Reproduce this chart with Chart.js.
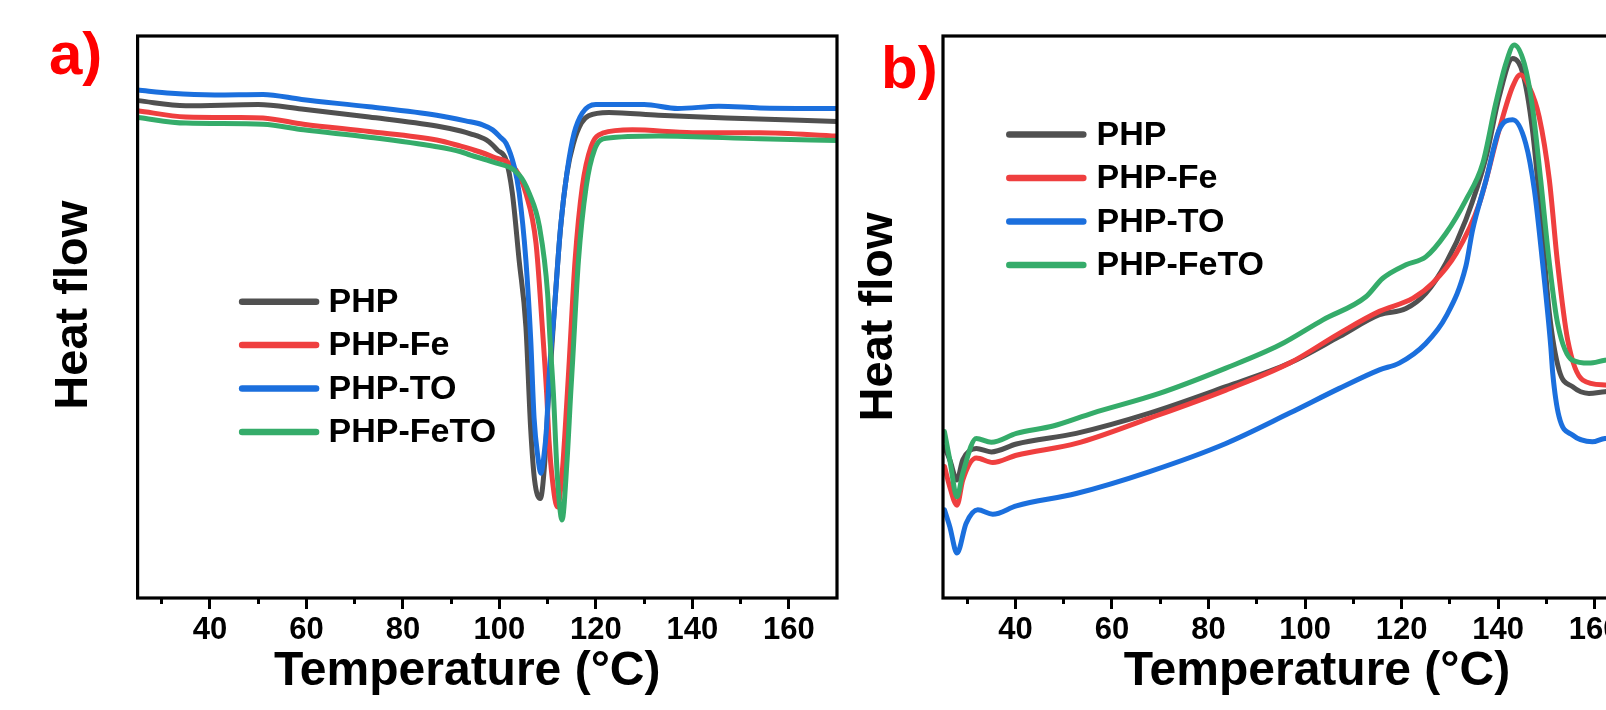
<!DOCTYPE html>
<html>
<head>
<meta charset="utf-8">
<script src="https://cdn.jsdelivr.net/npm/chart.js@4.4.0/dist/chart.umd.min.js"></script>
<style>
  html, body { margin: 0; padding: 0; background: #fff; overflow: hidden; }
  #wrap { position: relative; width: 1606px; height: 710px; overflow: hidden; }
  canvas { position: absolute; top: 0; }
  #panelA { left: 0; }
  #panelB { left: 840px; }
</style>
</head>
<body>
<div id="wrap">
  <canvas id="panelA" width="840" height="710"></canvas>
  <canvas id="panelB" width="811" height="710"></canvas>
</div>
<script>
// DSC curves (heat flow in arbitrary units, 0 = bottom of frame, 100 = top)
const seriesNames = ["PHP", "PHP-Fe", "PHP-TO", "PHP-FeTO"];
const seriesColors = ["#505050", "#ef3f3f", "#1b6fdd", "#35ac6a"];
const majorTicks = [40, 60, 80, 100, 120, 140, 160];
const minorTicks = [30, 50, 70, 90, 110, 130, 150];

// panel a)
const a_PHP_T = [25, 35, 50, 59, 73, 87, 92, 94, 97.3, 98.6, 99.6, 101.4, 102.7, 104.1, 105.5, 106.5, 107.3, 108.5, 109.4, 110.2, 111.3, 112.6, 114, 115.4, 117, 118.5, 122.7, 133, 147, 170];
const a_PHP_HF = [88.5, 87.6, 87.8, 87.0, 85.6, 84.0, 83.1, 82.6, 81.5, 80.6, 79.7, 77.9, 72.0, 60.1, 48.3, 30, 21, 17.7, 24, 36, 50, 65, 75.5, 81, 84.5, 85.8, 86.4, 85.9, 85.4, 84.8];

const a_Fe_T = [25, 35, 45.6, 51, 59.4, 73, 87, 92, 94, 98.6, 103.4, 105.5, 107.6, 108.9, 109.8, 110.3, 111, 112, 113, 114.1, 114.5, 115.7, 117.2, 119, 121.4, 127.6, 140, 154, 170];
const a_Fe_HF = [86.7, 85.6, 85.5, 85.4, 84.3, 83.0, 81.5, 80.4, 79.9, 78.5, 76.2, 72.0, 63.1, 48.3, 36.5, 28, 21, 16.2, 22, 36.5, 42.3, 60.1, 73.2, 80.3, 82.7, 83.3, 82.8, 82.8, 82.2];

const a_TO_T = [25, 32, 41, 51, 59, 73, 87, 93, 96.5, 98.6, 100.2, 101.4, 103.1, 104.1, 105.5, 106.5, 107.2, 108, 108.6, 109.2, 109.8, 110.3, 111.4, 112.7, 114.1, 115.5, 117.2, 120, 130, 137, 145.5, 154, 170];
const a_TO_HF = [90.4, 89.8, 89.5, 89.6, 88.7, 87.4, 85.9, 84.9, 84.2, 83.3, 82.0, 80.9, 76.7, 72.1, 60.1, 46, 32, 25, 22.2, 25, 30.5, 39.4, 51.2, 66.1, 76.2, 82.7, 86.3, 87.8, 87.8, 87.1, 87.5, 87.2, 87.1];

const a_FeTO_T = [25, 35, 51, 59.4, 73, 87, 92, 94, 98.6, 104.1, 106.2, 108.3, 110, 110.5, 111.2, 112, 113, 114, 114.8, 115.2, 116.4, 118, 119.7, 122.1, 133, 154, 170];
const a_FeTO_HF = [85.5, 84.5, 84.3, 83.3, 82.0, 80.3, 79.4, 78.8, 77.6, 75.3, 72.0, 66.1, 54.2, 46, 36.5, 22, 13.9, 24, 36.5, 42.3, 60.1, 73.2, 79.7, 81.8, 82.2, 81.7, 81.4];

// panel b)
const b_PHP_T = [25.3, 26.4, 27.9, 29.1, 31.9, 35, 40.2, 52.6, 67.8, 83.6, 96.8, 107.1, 115.4, 120.9, 125, 129.2, 133.3, 137.5, 140.2, 143, 145.1, 147.1, 148.8, 150.6, 152.6, 155.4, 158.8, 162.1, 166, 170];
const b_PHP_HF = [26.9, 24.6, 21.0, 24.6, 26.6, 26.0, 27.4, 29.3, 32.9, 37.6, 41.8, 46.5, 50.4, 51.5, 54.2, 59.6, 67.3, 78.5, 89.2, 96.0, 93.4, 83.3, 68.5, 50.7, 40.6, 37.6, 36.4, 36.7, 36.9, 37.0];

const b_Fe_T = [25.3, 26.4, 27.9, 29.1, 31.9, 35.3, 40.2, 52.6, 67.8, 83.6, 96.8, 107.1, 115.4, 122.3, 126.4, 131.3, 136.1, 140.2, 143, 144.6, 146.4, 148.5, 150.6, 152.3, 154.4, 157.5, 162.1, 166, 170];
const b_Fe_HF = [23.4, 19.8, 16.5, 21, 24.9, 24.1, 25.4, 27.5, 32.0, 37.0, 41.8, 47.1, 51.0, 53.3, 56.0, 61.3, 70.2, 83.3, 91.0, 93.1, 91.0, 85.6, 74.4, 59.6, 45.9, 38.8, 37.9, 37.8, 37.8];

const b_TO_T = [25.3, 26.4, 27.9, 29.8, 32.2, 35.3, 40.2, 52.6, 67.8, 83.6, 96.8, 107.1, 115.4, 119.5, 125, 129.2, 133.3, 134.7, 137.5, 140.2, 143, 145.7, 147.5, 149.2, 150.9, 151.3, 152.6, 155.4, 159.5, 162.1, 166, 170];
const b_TO_HF = [15.7, 12.7, 8.0, 13.3, 15.7, 14.9, 16.4, 18.6, 22.5, 27.5, 32.9, 37.3, 40.6, 41.8, 45.3, 50.1, 59.0, 65.5, 74.4, 83.3, 85.1, 80.9, 72.6, 59.6, 44.7, 40.0, 32.3, 29.0, 27.8, 28.4, 28.5, 28.6];

const b_FeTO_T = [25.3, 26.4, 27.9, 29.1, 31.9, 35, 40.2, 47.8, 56, 69.8, 83.6, 94.7, 103.7, 112.6, 116.1, 120.9, 125, 129.2, 133.3, 136.8, 139.5, 141.6, 143.3, 145.4, 147.1, 148.8, 150.6, 152.3, 155.4, 158.8, 162.1, 166, 170];
const b_FeTO_HF = [29.6, 24.6, 18.0, 22.2, 28.4, 27.7, 29.3, 30.6, 32.9, 36.4, 40.9, 45.0, 49.5, 53.6, 56.9, 59.3, 60.7, 64.9, 70.8, 77.3, 88.0, 95.1, 98.4, 95.1, 87.4, 74.4, 59.6, 48.9, 42.3, 41.8, 42.3, 42.6, 42.8];

Chart.defaults.font.family = '"Liberation Sans", Arial, sans-serif';
Chart.defaults.color = "#000";

const toPoints = (xs, ys) => xs.map((x, i) => ({ x: x, y: ys[i] }));

// black box around the plot area
const framePlugin = {
    id: "frame",
    afterDatasetsDraw(chart) {
        const { ctx, chartArea: a } = chart;
        ctx.save();
        ctx.lineWidth = 3.2;
        ctx.strokeStyle = "#000";
        ctx.strokeRect(a.left, a.top, a.right - a.left, a.bottom - a.top);
        ctx.restore();
    }
};

// legend drawn inside the plot, built from the datasets
const insetLegend = {
    id: "insetLegend",
    afterDraw(chart, args, opts) {
        const { ctx, chartArea: a } = chart;
        ctx.save();
        chart.data.datasets.forEach((ds, i) => {
            const y = a.top + opts.top + i * opts.gap;
            const x0 = a.left + opts.x;
            ctx.strokeStyle = ds.borderColor;
            ctx.lineWidth = 6.5;
            ctx.lineCap = "round";
            ctx.beginPath();
            ctx.moveTo(x0, y);
            ctx.lineTo(x0 + opts.len, y);
            ctx.stroke();
            ctx.fillStyle = "#000";
            ctx.font = 'bold 34px "Liberation Sans", Arial, sans-serif';
            ctx.textBaseline = "middle";
            ctx.fillText(ds.label, a.left + opts.textX, y + 1);
        });
        ctx.restore();
    }
};

// red panel tag, a) / b)
const panelTag = {
    id: "panelTag",
    afterDraw(chart, args, opts) {
        const ctx = chart.ctx;
        ctx.save();
        ctx.fillStyle = "#ff0000";
        ctx.font = 'bold 60px "Liberation Sans", Arial, sans-serif';
        ctx.textBaseline = "alphabetic";
        ctx.fillText(opts.text, opts.x, opts.y);
        ctx.restore();
    }
};

function makeChart(canvasId, sets, cfg) {
    const ctx = document.getElementById(canvasId).getContext("2d");
    new Chart(ctx, {
        type: "line",
        data: {
            datasets: sets.map((s, i) => ({
                label: seriesNames[i],
                data: toPoints(s[0], s[1]),
                borderColor: seriesColors[i],
                backgroundColor: "transparent",
                borderWidth: 5,
                pointRadius: 0,
                cubicInterpolationMode: "monotone",
                borderCapStyle: "round",
                borderJoinStyle: "round",
                order: 4 - i
            }))
        },
        options: {
            responsive: false,
            devicePixelRatio: 1,
            animation: false,
            events: [],
            layout: { padding: { top: 36, right: cfg.rightPad, left: 0, bottom: 0 } },
            plugins: {
                legend: { display: false },
                tooltip: { enabled: false },
                insetLegend: cfg.legend,
                panelTag: cfg.tag
            },
            scales: {
                x: {
                    type: "linear",
                    position: "bottom",
                    min: 25,
                    max: 170,
                    afterBuildTicks: s => { s.ticks = majorTicks.map(v => ({ value: v })); },
                    afterFit: s => { s.height = 112; },
                    grid: { drawOnChartArea: false, drawTicks: true, tickLength: 11, tickWidth: 3, tickColor: "#000" },
                    border: { display: false },
                    ticks: { color: "#000", font: { size: 31, weight: "bold" }, padding: 3, maxRotation: 0, autoSkip: false },
                    title: {
                        display: true,
                        text: cfg.xTitle,
                        color: "#000",
                        font: { size: 48, weight: "bold" },
                        padding: { top: 0, bottom: 9 }
                    }
                },
                xMinor: {
                    type: "linear",
                    axis: "x",
                    position: { y: 0 },
                    min: 25,
                    max: 170,
                    afterBuildTicks: s => { s.ticks = minorTicks.map(v => ({ value: v })); },
                    grid: { drawOnChartArea: false, drawTicks: true, tickLength: 6, tickWidth: 3, tickColor: "#000" },
                    border: { display: false },
                    ticks: { display: false }
                },
                y: {
                    type: "linear",
                    min: 0,
                    max: 100,
                    afterFit: s => { s.width = cfg.yWidth; },
                    grid: { display: false },
                    border: { display: false },
                    ticks: { display: false },
                    title: {
                        display: true,
                        text: cfg.yTitle,
                        color: "#000",
                        font: { size: 47, weight: "bold" },
                        padding: { top: cfg.yTitlePad, bottom: 0 }
                    }
                }
            }
        },
        plugins: [framePlugin, insetLegend, panelTag]
    });
}

makeChart("panelA",
    [[a_PHP_T, a_PHP_HF], [a_Fe_T, a_Fe_HF], [a_TO_T, a_TO_HF], [a_FeTO_T, a_FeTO_HF]],
    {
        yWidth: 137.6, rightPad: 3, yTitlePad: 46,
        xTitle: "Temperature (°C)   ",
        yTitle: "\u2002Heat flow",
        legend: { x: 104.5, len: 74, textX: 191, top: 265.7, gap: 43.4 },
        tag: { text: "a)", x: 49, y: 74 }
    });

makeChart("panelB",
    [[b_PHP_T, b_PHP_HF], [b_Fe_T, b_Fe_HF], [b_TO_T, b_TO_HF], [b_FeTO_T, b_FeTO_HF]],
    {
        yWidth: 103, rightPad: 8, yTitlePad: 11,
        xTitle: "\u2002\u2002Temperature (°C)",
        yTitle: "Heat flow",
        legend: { x: 66.3, len: 74, textX: 153.5, top: 98.5, gap: 43.5 },
        tag: { text: "b)", x: 41, y: 88 }
    });
</script>
</body>
</html>
